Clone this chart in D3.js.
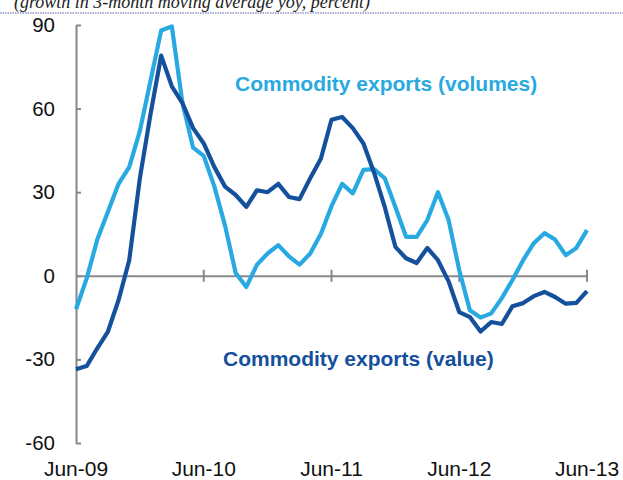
<!DOCTYPE html>
<html><head><meta charset="utf-8">
<script src="https://cdn.jsdelivr.net/npm/d3@7"></script>
<style>body{margin:0;background:#fff}svg{display:block}</style>
</head><body>
<svg id="c" width="623" height="480"></svg>
<script>
const startDate = "2009-06";
const volumes = [-12,-1,13,23,33,39,52,70,88,89.5,62,46,43,32,18,1,-4,4,8,11,7,4,8,15,25,33,29.6,38,38.3,35,24.7,14,14,20,30,20,2,-12.4,-15,-13.5,-8,-1.5,5.6,11.7,15.3,13,7.4,10,16.4];
const values = [-33.5,-32.4,-26,-20,-8.7,5.6,35,58,79,68,62,53,47.5,39,32,29,24.7,30.7,30,33,28.3,27.5,35,42,56,57,53,47.5,37,24.7,10.4,6.3,4.6,10,5.6,-2,-13,-14.8,-20,-16.6,-17.3,-10.9,-9.8,-7.3,-5.8,-7.6,-10,-9.7,-5.5];
const yTicks = [90,60,30,0,-30,-60];
const xTickLabels = ["Jun-09","Jun-10","Jun-11","Jun-12","Jun-13"];
const seriesNames = ["Commodity exports (volumes)","Commodity exports (value)"];
const colors = ["#29a9e1","#15509c"];

const svg = d3.select("#c");
const x = d3.scaleLinear().domain([0,48]).range([76,587]);
const y = d3.scaleLinear().domain([-60,90]).range([443,25]);
const sans = "Liberation Sans, Arial, sans-serif";

// title (cut off at top)
svg.append("text").attr("x",14).attr("y",8)
  .attr("font-family","Liberation Serif, serif").attr("font-style","italic").attr("font-size",18)
  .attr("fill","#222").text("(growth in 3-month moving average yoy, percent)");
svg.append("line").attr("x1",0).attr("x2",623).attr("y1",13).attr("y2",13)
  .attr("stroke","#5a62a8").attr("stroke-width",1.2).attr("stroke-dasharray","1.5,1");

// y axis
const ya = svg.append("g").attr("transform","translate(76,0)")
  .call(d3.axisLeft(y).tickValues(yTicks).tickSizeInner(-5).tickSizeOuter(0).tickPadding(21).tickFormat(d=>String(d)));
ya.select(".domain").attr("stroke","#888").attr("stroke-width",2);
ya.selectAll(".tick line").attr("stroke","#888").attr("stroke-width",2);
ya.selectAll("text").attr("font-family",sans).attr("font-size",20.5).attr("fill","#111");

// x axis at 0
const xa = svg.append("g").attr("transform",`translate(0,${y(0)})`)
  .call(d3.axisBottom(x).tickValues([0,12,24,36,48]).tickSize(0).tickFormat(""));
xa.select(".domain").attr("stroke","#888").attr("stroke-width",2);
[12,24,36,48].forEach(v=>{
  svg.append("line").attr("x1",x(v)).attr("x2",x(v)).attr("y1",y(0)-6).attr("y2",y(0)+6)
    .attr("stroke","#888").attr("stroke-width",2);
});
svg.append("g").selectAll("text").data(xTickLabels).join("text")
  .attr("x",(d,i)=>x(i*12)).attr("y",476).attr("text-anchor","middle")
  .attr("font-family",sans).attr("font-size",21).attr("fill","#111")
  .text(d=>d);

const line = d3.line().x((d,i)=>x(i)).y(d=>y(d)).curve(d3.curveLinear);
[volumes, values].forEach((s,k)=>{
  svg.append("path").datum(s).attr("d",line).attr("fill","none")
    .attr("stroke",colors[k]).attr("stroke-width",4.2).attr("stroke-linejoin","round");
});

svg.append("text").attr("x",235).attr("y",91).attr("fill",colors[0])
  .attr("font-family",sans).attr("font-weight","bold").attr("font-size",21)
  .text(seriesNames[0]);
svg.append("text").attr("x",223).attr("y",366).attr("fill",colors[1])
  .attr("font-family",sans).attr("font-weight","bold").attr("font-size",21)
  .text(seriesNames[1]);
</script>
</body></html>
